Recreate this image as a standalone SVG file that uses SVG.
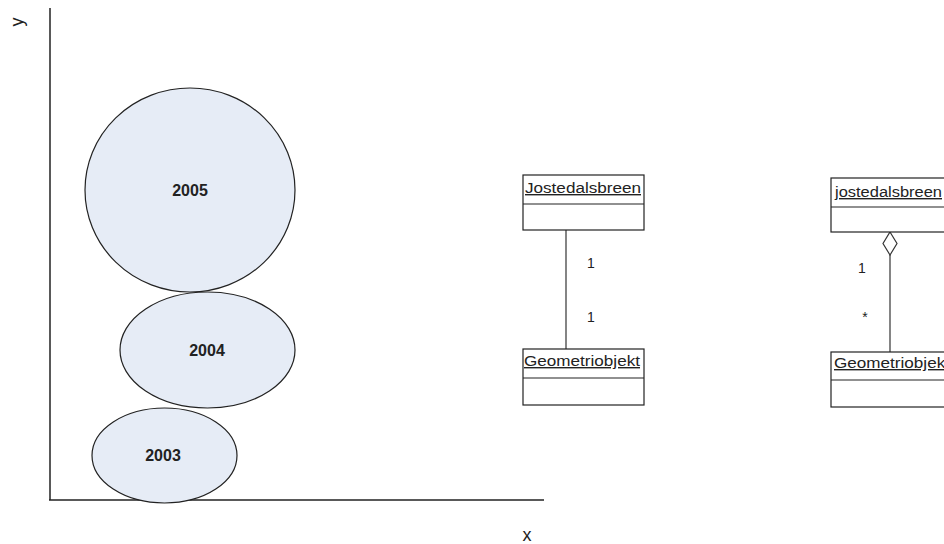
<svg xmlns="http://www.w3.org/2000/svg" width="944" height="544" viewBox="0 0 944 544">
  <style>
    .axis { stroke: #222; stroke-width: 1.5; fill: none; }
    .blob { fill: #e6ecf6; stroke: #222; stroke-width: 1.2; }
    .year { font-family: "Liberation Sans", Arial, sans-serif; font-size: 16px; font-weight: bold; fill: #222; text-anchor: middle; }
    .lbl { font-family: "Liberation Sans", Arial, sans-serif; font-size: 18px; fill: #222; text-anchor: middle; }
    .cls { fill: #fff; stroke: #222; stroke-width: 1.2; }
    .cname { font-family: "Liberation Sans", Arial, sans-serif; font-size: 14px; fill: #222; text-decoration: underline; }
    .mult { font-family: "Liberation Sans", Arial, sans-serif; font-size: 14px; fill: #222; text-anchor: middle; }
    .assoc { stroke: #333; stroke-width: 1.2; fill: none; }
  </style>
  <rect width="944" height="544" fill="#fff"/>

  <!-- axes -->
  <g id="axes">
    <line class="axis" x1="50" y1="8" x2="50" y2="500"/>
    <line class="axis" x1="49" y1="500" x2="544" y2="500"/>
    <text class="lbl" transform="translate(23 22) rotate(-90)" x="0" y="0">y</text>
    <text class="lbl" x="527" y="541">x</text>
  </g>

  <!-- yearly extents -->
  <g id="y2005">
    <ellipse class="blob" cx="190" cy="190" rx="105" ry="102"/>
    <text class="year" x="190" y="196">2005</text>
  </g>
  <g id="y2004">
    <ellipse class="blob" cx="207.5" cy="350" rx="87.5" ry="58"/>
    <text class="year" x="207" y="356">2004</text>
  </g>
  <g id="y2003">
    <ellipse class="blob" cx="164.5" cy="455.5" rx="72.5" ry="47.5"/>
    <text class="year" x="163" y="461">2003</text>
  </g>

  <!-- association connectors -->
  <g id="connectors">
    <line class="assoc" x1="566" y1="230" x2="566" y2="349"/>
    <text class="mult" x="591" y="268">1</text>
    <text class="mult" x="591" y="322">1</text>

    <path class="assoc" d="M890 232 L897 243.5 L890 255 L883 243.5 Z" fill="#fff"/>
    <line class="assoc" x1="890" y1="255" x2="890" y2="352"/>
    <text class="mult" x="862" y="273">1</text>
    <text class="mult" x="865" y="322">*</text>
  </g>

  <!-- class boxes, first model -->
  <g id="jostedalsbreen-a">
    <rect class="cls" x="523" y="175" width="121" height="55"/>
    <line class="cls" x1="523" y1="204" x2="644" y2="204"/>
    <text class="cname" x="525" y="193" textLength="116" lengthAdjust="spacingAndGlyphs">Jostedalsbreen</text>
  </g>
  <g id="geometriobjekt-a">
    <rect class="cls" x="523" y="349" width="121" height="56"/>
    <line class="cls" x1="523" y1="378" x2="644" y2="378"/>
    <text class="cname" x="524" y="366" textLength="116" lengthAdjust="spacingAndGlyphs">Geometriobjekt</text>
  </g>

  <!-- class boxes, second model -->
  <g id="jostedalsbreen-b">
    <rect class="cls" x="831" y="178" width="121" height="54"/>
    <line class="cls" x1="831" y1="207" x2="952" y2="207"/>
    <text class="cname" x="835" y="197" textLength="107" lengthAdjust="spacingAndGlyphs">jostedalsbreen</text>
  </g>
  <g id="geometriobjekt-b">
    <rect class="cls" x="831" y="352" width="121" height="55"/>
    <line class="cls" x1="831" y1="380" x2="952" y2="380"/>
    <text class="cname" x="834" y="368" textLength="116" lengthAdjust="spacingAndGlyphs">Geometriobjekt</text>
  </g>
</svg>
